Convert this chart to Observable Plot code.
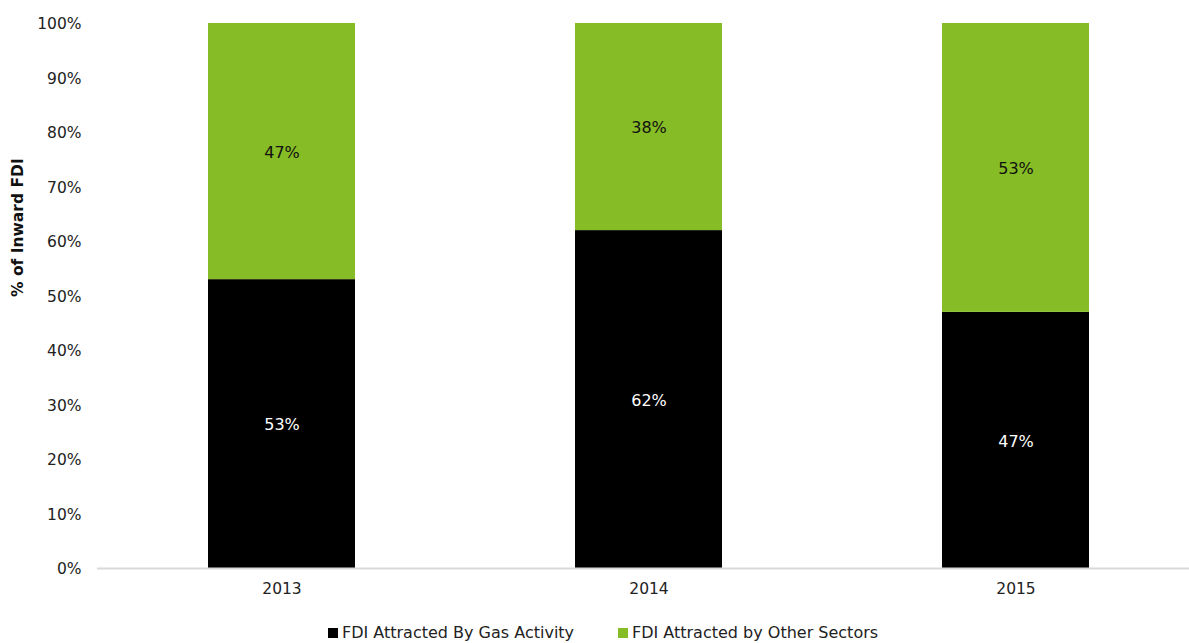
<!DOCTYPE html>
<html>
<head>
<meta charset="utf-8">
<script src="https://cdn.jsdelivr.net/npm/d3@7"></script>
<script src="https://cdn.jsdelivr.net/npm/@observablehq/plot@0.6"></script>
<style>
  html, body { margin: 0; padding: 0; background: #fff; }
  body { width: 1189px; height: 643px; overflow: hidden; font-family: "DejaVu Sans", Verdana, sans-serif; }
  #legend { position: relative; height: 43px; font-size: 16px; color: #222; }
  .item { position: absolute; top: 23px; display: flex; align-items: center; white-space: nowrap; }
  .sw { width: 10px; height: 10px; margin-right: 4px; }
</style>
</head>
<body>
<div id="chart"></div>
<div id="legend"></div>
<script>
const years = ["2013", "2014", "2015"];
const series = ["FDI Attracted By Gas Activity", "FDI Attracted by Other Sectors"];
const gasShare = [53, 62, 47];
const otherShare = [47, 38, 53];
const colors = ["#000000", "#86BC25"];
const yTicks = [0, 10, 20, 30, 40, 50, 60, 70, 80, 90, 100];

const rows = [];
years.forEach((y, i) => {
  rows.push({year: y, series: series[0], value: gasShare[i]});
  rows.push({year: y, series: series[1], value: otherShare[i]});
});

const plot = Plot.plot({
  width: 1189,
  height: 600,
  marginLeft: 97,
  marginRight: 0,
  marginTop: 23,
  marginBottom: 32,
  style: {fontFamily: "DejaVu Sans, Verdana, sans-serif", fontSize: "15px", color: "#222"},
  x: {domain: years, range: [98, 1199], paddingInner: 0.6, paddingOuter: 0.3},
  y: {domain: [0, 100]},
  color: {domain: series, range: colors},
  marks: [
    Plot.barY(rows, Plot.stackY({x: "year", y: "value", fill: "series", order: series})),
    Plot.text(rows, Plot.stackY({x: "year", y: "value", z: "series", order: series,
      text: d => d.value + "%",
      fill: d => d.series === series[0] ? "white" : "#111",
      fontSize: 16, dy: 1})),
    Plot.ruleY([0], {stroke: "#d9d9d9", strokeWidth: 2}),
    Plot.axisY({ticks: yTicks, tickSize: 0, tickPadding: 16, tickFormat: d => d + "%", label: null, fontSize: 15.5, dy: 1}),
    Plot.axisX({tickSize: 0, tickPadding: 14, label: null, fontSize: 15.5}),
    Plot.text(["% of Inward FDI"], {frameAnchor: "left", dx: -79, dy: 1, rotate: -90, fontWeight: "bold", fontSize: 15.5, fill: "#111"})
  ]
});
document.getElementById("chart").appendChild(plot);

const legend = document.getElementById("legend");
const lx = [328, 618];
series.forEach((s, i) => {
  const it = document.createElement("div");
  it.className = "item";
  it.style.left = lx[i] + "px";
  it.innerHTML = `<span class="sw" style="background:${colors[i]}"></span><span>${s}</span>`;
  legend.appendChild(it);
});
</script>
</body>
</html>
